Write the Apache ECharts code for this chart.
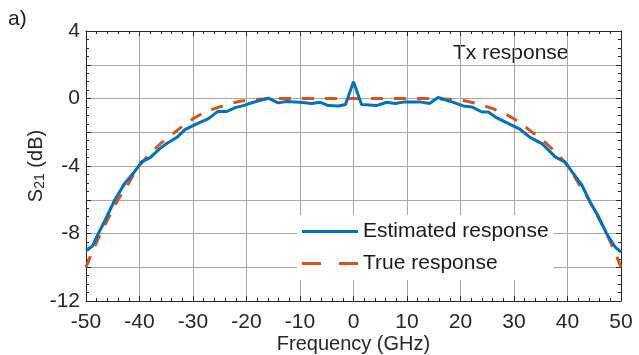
<!DOCTYPE html>
<html><head><meta charset="utf-8">
<script src="https://cdn.jsdelivr.net/npm/echarts@6/dist/echarts.min.js"></script>
<style>html,body{margin:0;padding:0;background:#fff}#c{width:639px;height:355px}</style>
</head><body><div id="c"></div>
<script>
// Estimated response (blue)
const estFreq = [-50,-48.8,-47.7,-46.4,-44.6,-42.7,-41.2,-39.6,-38.0,-36.2,-34.9,-33.0,-31.5,-29.6,-27.1,-25.3,-23.7,-22.1,-20.6,-18.7,-15.9,-14.1,-12.5,-10.0,-7.8,-6.3,-4.7,-2.8,-1.5,0,1.5,4.3,6.2,7.8,9.6,12.4,14.2,15.8,18.0,20.5,22.1,24.0,25.2,26.8,28.6,31.1,33.0,35.2,37.7,39.5,41.1,42.7,44.2,45.8,47.3,48.9,50];
const estS21 = [-9.0,-8.75,-8.0,-7.2,-6.0,-5.0,-4.45,-3.76,-3.5,-2.97,-2.67,-2.3,-1.84,-1.55,-1.19,-0.75,-0.77,-0.54,-0.42,-0.22,0.02,-0.26,-0.18,-0.22,-0.3,-0.22,-0.42,-0.44,-0.36,1.0,-0.36,-0.42,-0.22,-0.3,-0.2,-0.2,-0.3,0.06,-0.16,-0.44,-0.5,-0.8,-0.8,-1.15,-1.43,-1.82,-2.3,-2.67,-3.46,-3.76,-4.45,-5.14,-6.13,-7.0,-8.0,-8.8,-9.1];
// True response (orange dashed)
const trueFreq = [-50,-49,-48,-47,-46,-45,-44,-43,-42,-41,-40,-39,-38,-37,-36,-35,-34,-33,-32,-31,-30,-29,-28,-27,-26,-25,-24,-23,-22,-21,-20,-18,-16,-14,0,14,16,18,20,21,22,23,24,25,26,27,28,29,30,31,32,33,34,35,36,37,38,39,40,41,42,43,44,45,46,47,48,49,50];
const trueS21 = [-10.0,-9.2,-8.5,-7.8,-7.2,-6.6,-6.0,-5.5,-5.0,-4.45,-3.95,-3.6,-3.25,-2.95,-2.65,-2.4,-2.15,-1.9,-1.65,-1.42,-1.2,-1.02,-0.85,-0.72,-0.6,-0.5,-0.4,-0.3,-0.22,-0.15,-0.1,-0.05,-0.02,0,0,0,-0.02,-0.05,-0.1,-0.15,-0.22,-0.3,-0.4,-0.5,-0.6,-0.72,-0.85,-1.02,-1.2,-1.42,-1.65,-1.9,-2.15,-2.4,-2.65,-2.95,-3.25,-3.6,-3.95,-4.45,-5.0,-5.5,-6.0,-6.6,-7.2,-7.8,-8.5,-9.2,-10.0];
const yLabels = [4,0,-4,-8,-12];

const FONT = 'Liberation Sans, Arial, sans-serif';
const AX = '#262626', GRID = '#a8a8a8';
const chart = echarts.init(document.getElementById('c'));
const zip = (a,b)=>a.map((v,i)=>[v,b[i]]);
const baseX = {type:'value',min:-50,max:50,interval:10};
const baseY = {type:'value',min:-12,max:4,interval:2};
chart.setOption({
  animation:false,
  textStyle:{fontFamily:FONT},
  grid:{left:86,right:18,top:31,bottom:54,containLabel:false,outerBoundsMode:'none'},
  xAxis:[
    Object.assign({},baseX,{position:'bottom',name:'Frequency (GHz)',nameLocation:'middle',nameGap:33,nameMoveOverlap:false,
      nameTextStyle:{fontSize:20,color:'#262626',fontFamily:FONT},
      axisLine:{onZero:false,lineStyle:{color:AX}},
      axisTick:{inside:true,length:5,lineStyle:{color:AX}},
      minorTick:{show:true,splitNumber:5,length:3,lineStyle:{color:AX}},
      axisLabel:{fontSize:21,color:'#262626',margin:11,fontFamily:FONT},
      splitLine:{show:true,lineStyle:{color:GRID,width:1}}}),
    Object.assign({},baseX,{position:'top',
      axisLine:{onZero:false,lineStyle:{color:AX}},
      axisTick:{inside:true,length:5,lineStyle:{color:AX}},
      minorTick:{show:true,splitNumber:5,length:3,lineStyle:{color:AX}},
      axisLabel:{show:false},splitLine:{show:false}})
  ],
  yAxis:[
    Object.assign({},baseY,{position:'left',name:'S{s|21} (dB)',nameLocation:'middle',nameGap:39,nameRotate:90,nameMoveOverlap:false,
      nameTextStyle:{fontSize:20,color:'#262626',fontFamily:FONT,rich:{s:{fontSize:14,verticalAlign:'bottom',padding:[8,0,0,0],color:'#262626',fontFamily:FONT}}},
      axisLine:{onZero:false,lineStyle:{color:AX}},
      axisTick:{inside:true,length:5,lineStyle:{color:AX}},
      minorTick:{show:true,splitNumber:4,length:3,lineStyle:{color:AX}},
      axisLabel:{fontSize:21,color:'#262626',margin:6,fontFamily:FONT,
        formatter:v=>yLabels.indexOf(v)>=0?String(v):''},
      splitLine:{show:true,lineStyle:{color:GRID,width:1}}}),
    Object.assign({},baseY,{position:'right',
      axisLine:{onZero:false,lineStyle:{color:AX}},
      axisTick:{inside:true,length:5,lineStyle:{color:AX}},
      minorTick:{show:true,splitNumber:4,length:3,lineStyle:{color:AX}},
      axisLabel:{show:false},splitLine:{show:false}})
  ],
  legend:{
    left:297,top:215,orient:'vertical',backgroundColor:'#fff',padding:[6,5,6,5],
    itemWidth:56,itemHeight:3,itemGap:11,
    textStyle:{fontSize:21,color:'#1a1a1a',lineHeight:20,fontFamily:FONT},
    data:[
      {name:'Estimated response',icon:'rect',itemStyle:{color:'#0072BD'}},
      {name:'True response',icon:'path://M0,0h19v3h-19z M37,0h19v3h-19z',itemStyle:{color:'#D95319'}}
    ]
  },
  graphic:[
    {type:'text',left:8,top:9,style:{text:'a)',font:'21px '+FONT,fill:'#1a1a1a'}},
    {type:'text',left:453,top:43,style:{text:'Tx response',font:'21px '+FONT,fill:'#1a1a1a'}}
  ],
  series:[
    {name:'True response',type:'line',data:zip(trueFreq,trueS21),showSymbol:false,symbol:'none',
      lineStyle:{color:'#D95319',width:3,type:[12,11]},itemStyle:{color:'#D95319'},z:2},
    {name:'Estimated response',type:'line',data:zip(estFreq,estS21),showSymbol:false,symbol:'none',
      lineStyle:{color:'#0072BD',width:3},itemStyle:{color:'#0072BD'},z:3}
  ]
});
</script></body></html>
